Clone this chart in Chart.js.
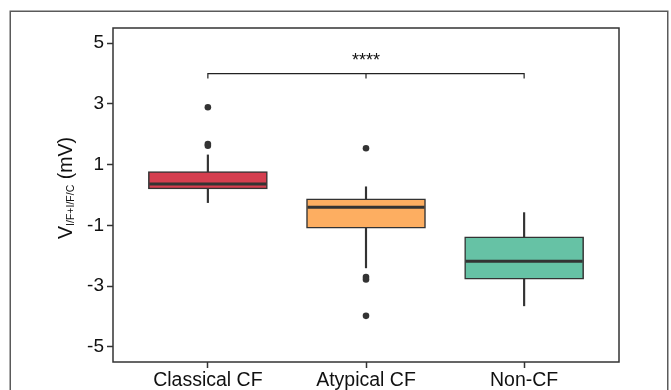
<!DOCTYPE html>
<html>
<head>
<meta charset="utf-8">
<script src="https://cdn.jsdelivr.net/npm/chart.js@4/dist/chart.umd.min.js"></script>
<style>
  html, body { margin: 0; padding: 0; background: #ffffff; }
  #wrap { width: 671px; height: 390px; position: relative; }
</style>
</head>
<body>
<div id="wrap"><canvas id="c" width="671" height="390"></canvas></div>
<script>
// Group names along the x axis
const categories = ['Classical CF', 'Atypical CF', 'Non-CF'];

// Five-number summaries per group (mV)
const whiskerLow  = [-0.25, -2.40, -3.65];
const q1          = [ 0.20, -1.09, -2.77];
const median      = [ 0.36, -0.40, -2.18];
const q3          = [ 0.77, -0.13, -1.38];
const whiskerHigh = [ 1.32,  0.27, -0.58];

// Points beyond the whiskers, per group
const outliers = [
  [2.89, 1.68, 1.62],
  [1.54, -2.70, -2.78, -3.98],
  []
];

// Fill colour per group
const boxColors = ['#D53E4F', '#FDAE61', '#66C2A5'];

// Y axis ticks
const yTicks = [-5, -3, -1, 1, 3, 5];

// Significance bracket between group 1 and group 3
const sigFrom = 1;
const sigTo = 3;
const sigLevel = 4.0;
const sigLabel = '****';

const FONT = "'Liberation Sans', Arial, Helvetica, sans-serif";
const INK = '#333333';

const positions = categories.map((c, i) => i + 1);

const outlierPoints = [];
outliers.forEach((list, i) => list.forEach(v => outlierPoints.push({ x: i + 1, y: v })));

const bracket = [
  { x: sigFrom, y: sigLevel - 0.16 }, { x: sigFrom, y: sigLevel },
  { x: (sigFrom + sigTo) / 2, y: sigLevel }, { x: (sigFrom + sigTo) / 2, y: sigLevel - 0.16 },
  { x: (sigFrom + sigTo) / 2, y: sigLevel },
  { x: sigTo, y: sigLevel }, { x: sigTo, y: sigLevel - 0.16 }
];

// Frame around the figure, full border around the panel, y title and p-value stars
const decorations = {
  id: 'decorations',
  beforeDraw(chart) {
    const ctx = chart.ctx;
    ctx.save();
    ctx.fillStyle = '#ffffff';
    ctx.fillRect(0, 0, chart.width, chart.height);
    ctx.strokeStyle = '#5a5a5a';
    ctx.lineWidth = 1.5;
    ctx.strokeRect(10.25, 11.25, 657.5, 420);
    ctx.restore();
  },
  afterDraw(chart) {
    const ctx = chart.ctx;
    const a = chart.chartArea;
    const xs = chart.scales.x, ys = chart.scales.y;
    ctx.save();
    ctx.strokeStyle = INK;
    ctx.lineWidth = 1.5;
    ctx.strokeRect(a.left, a.top, a.right - a.left, a.bottom - a.top);

    // stars above the bracket
    ctx.fillStyle = '#111111';
    ctx.font = '18px ' + FONT;
    ctx.textAlign = 'center';
    ctx.textBaseline = 'alphabetic';
    ctx.fillText(sigLabel, xs.getPixelForValue((sigFrom + sigTo) / 2), ys.getPixelForValue(sigLevel) - 8);

    // rotated y title: V with subscript, then unit
    const main = '19.5px ' + FONT, sub = '10.5px ' + FONT;
    const p1 = 'V', p2 = 'I/F+I/F/C', p3 = ' (mV)';
    ctx.font = main; const w1 = ctx.measureText(p1).width, w3 = ctx.measureText(p3).width;
    ctx.font = sub; const w2 = ctx.measureText(p2).width;
    const total = w1 + w2 + w3;
    ctx.translate(72, 188);
    ctx.rotate(-Math.PI / 2);
    ctx.textAlign = 'left';
    let x = -total / 2;
    ctx.font = main; ctx.fillText(p1, x, 0); x += w1;
    ctx.font = sub; ctx.fillText(p2, x, 2); x += w2;
    ctx.font = main; ctx.fillText(p3, x, 0);
    ctx.restore();
  }
};

new Chart(document.getElementById('c'), {
  type: 'bar',
  data: {
    datasets: [
      {
        label: 'whiskers',
        type: 'bar',
        data: positions.map((p, i) => ({ x: p, y: [whiskerLow[i], whiskerHigh[i]] })),
        backgroundColor: INK,
        borderWidth: 0,
        barThickness: 1.5,
        grouped: false,
        order: 3
      },
      {
        label: 'boxes',
        type: 'bar',
        data: positions.map((p, i) => ({ x: p, y: [q1[i], q3[i]] })),
        backgroundColor: boxColors,
        borderColor: INK,
        borderWidth: 1.5,
        borderSkipped: false,
        barThickness: 119,
        grouped: false,
        order: 2
      },
      {
        label: 'median',
        type: 'scatter',
        data: positions.map((p, i) => ({ x: p, y: median[i] })),
        pointStyle: 'line',
        pointRadius: 58.5,
        pointHoverRadius: 58.5,
        borderColor: INK,
        borderWidth: 3,
        clip: false,
        order: 1
      },
      {
        label: 'outliers',
        type: 'scatter',
        data: outlierPoints,
        pointStyle: 'circle',
        pointRadius: 3.3,
        backgroundColor: INK,
        borderColor: INK,
        borderWidth: 0,
        order: 0
      },
      {
        label: 'bracket',
        type: 'line',
        data: bracket,
        borderColor: '#222222',
        borderWidth: 1.2,
        pointRadius: 0,
        fill: false,
        tension: 0,
        order: 0
      }
    ]
  },
  options: {
    responsive: false,
    animation: false,
    events: [],
    layout: { autoPadding: false, padding: { left: 0, top: 28, right: 52, bottom: 0 } },
    plugins: { legend: { display: false }, tooltip: { enabled: false } },
    scales: {
      x: {
        type: 'linear',
        min: 0.4,
        max: 3.6,
        offset: false,
        afterBuildTicks: s => { s.ticks = positions.map(v => ({ value: v })); },
        afterFit: s => { s.height = 28; },
        grid: { display: true, offset: false, drawOnChartArea: false, drawTicks: true, tickLength: 6, tickColor: INK, tickWidth: 1.5 },
        border: { display: false },
        ticks: {
          callback: v => categories[Math.round(v) - 1] || '',
          color: '#111111',
          font: { family: FONT, size: 19.5 },
          padding: 1,
          maxRotation: 0,
          autoSkip: false
        }
      },
      y: {
        type: 'linear',
        min: -5.5,
        max: 5.5,
        afterBuildTicks: s => { s.ticks = yTicks.map(v => ({ value: v })); },
        afterFit: s => { s.width = 113; },
        grid: { display: true, drawOnChartArea: false, drawTicks: true, tickLength: 6, tickColor: INK, tickWidth: 1.5 },
        border: { display: false },
        ticks: {
          color: '#111111',
          font: { family: FONT, size: 19 },
          padding: 3
        }
      }
    }
  },
  plugins: [decorations]
});
</script>
</body>
</html>
